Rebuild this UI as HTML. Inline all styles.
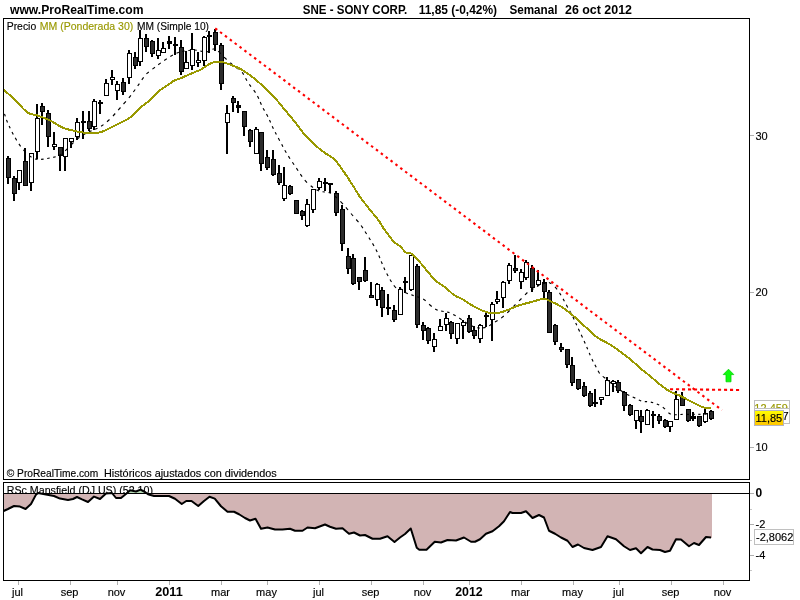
<!DOCTYPE html>
<html><head><meta charset="utf-8"><title>SNE - SONY CORP.</title>
<style>
html,body{margin:0;padding:0;background:#fff;}
body{width:800px;height:600px;overflow:hidden;}
svg{display:block;font-family:"Liberation Sans",Arial,sans-serif;will-change:transform;}
.t11{font-size:11px;stroke-width:0.15px;stroke:#000;}
.b12{font-size:12px;font-weight:bold;}
.b13{font-size:13px;font-weight:bold;}
</style></head><body>
<svg width="800" height="600" viewBox="0 0 800 600">
<rect x="0" y="0" width="800" height="600" fill="#fff"/>

<text x="10" y="14" class="b13" textLength="133.5" lengthAdjust="spacingAndGlyphs">www.ProRealTime.com</text>
<text x="302.8" y="13.5" class="b12" textLength="104.5" lengthAdjust="spacingAndGlyphs">SNE - SONY CORP.</text>
<text x="418.7" y="13.5" class="b12" textLength="78.4" lengthAdjust="spacingAndGlyphs">11,85 (-0,42%)</text>
<text x="509.4" y="13.5" class="b12" textLength="48" lengthAdjust="spacingAndGlyphs">Semanal</text>
<text x="565" y="13.5" class="b12" textLength="67" lengthAdjust="spacingAndGlyphs">26 oct 2012</text>
<text x="6.7" y="30" class="t11" textLength="29.5" lengthAdjust="spacingAndGlyphs">Precio</text>
<text x="39.75" y="30" class="t11" textLength="93.5" lengthAdjust="spacingAndGlyphs" fill="#999900" style="stroke:#999900">MM (Ponderada 30)</text>
<text x="137" y="30" class="t11" textLength="72" lengthAdjust="spacingAndGlyphs">MM (Simple 10)</text>
<text x="6.75" y="494.2" class="t11" textLength="146.25" lengthAdjust="spacingAndGlyphs">RSc Mansfield (DJ US) (52 10)</text>
<defs><clipPath id="below"><rect x="4" y="493.5" width="745" height="87"/></clipPath><clipPath id="above"><rect x="4" y="483" width="745" height="10.5"/></clipPath></defs>
<polygon points="3.60,493.50 3.60,511.00 8.00,509.00 14.00,506.00 20.00,506.60 25.60,509.00 31.00,504.00 36.00,494.60 38.00,493.00 46.00,494.60 54.00,496.00 60.00,498.60 68.00,500.00 73.00,499.00 77.00,497.00 82.00,499.40 88.00,502.00 94.00,496.60 100.00,499.00 106.00,493.40 112.00,493.00 116.00,498.00 121.00,498.00 126.25,493.80 130.00,490.30 136.00,491.50 140.50,489.60 145.00,492.00 148.00,494.25 154.00,496.00 169.00,496.00 175.00,498.75 181.75,504.00 186.25,501.00 191.50,501.00 198.25,506.00 204.00,501.00 209.50,496.80 214.75,498.60 221.00,506.25 227.50,511.75 234.00,511.75 239.00,514.25 245.00,518.00 250.00,520.50 255.50,518.75 261.00,528.75 267.50,527.50 275.00,529.50 282.50,529.50 290.00,528.75 295.00,530.75 302.50,530.75 307.50,527.50 315.00,528.25 325.00,524.50 330.00,526.75 336.00,528.75 342.50,528.25 349.00,533.75 354.00,532.50 360.00,535.50 365.00,535.00 372.50,538.75 380.00,538.75 387.50,536.25 394.50,542.00 400.00,537.50 405.00,534.00 410.75,528.50 416.75,547.70 419.30,549.70 426.50,549.70 434.75,541.70 441.00,542.50 447.50,540.00 456.00,540.50 464.00,537.50 471.00,541.75 475.00,541.75 480.00,539.25 486.00,533.75 492.50,531.25 499.00,526.25 504.00,521.25 510.00,512.00 512.50,513.00 521.00,513.00 526.00,511.25 532.50,518.00 539.00,515.00 544.00,517.50 549.00,530.75 555.00,533.75 561.00,537.50 567.50,540.75 572.50,547.00 578.00,544.50 584.00,548.00 592.50,550.00 601.00,547.00 607.50,536.25 616.00,539.25 624.00,546.25 630.00,550.00 636.00,548.25 641.00,553.25 647.50,547.00 652.50,549.50 660.00,550.00 665.00,552.00 670.00,550.75 676.00,539.25 681.00,539.50 689.00,546.25 694.00,543.00 699.00,545.00 706.00,537.00 711.00,537.50 711.80,537.50 711.80,493.50" fill="#d2b4b4" clip-path="url(#below)" shape-rendering="crispEdges"/>
<polygon points="3.60,493.50 3.60,511.00 8.00,509.00 14.00,506.00 20.00,506.60 25.60,509.00 31.00,504.00 36.00,494.60 38.00,493.00 46.00,494.60 54.00,496.00 60.00,498.60 68.00,500.00 73.00,499.00 77.00,497.00 82.00,499.40 88.00,502.00 94.00,496.60 100.00,499.00 106.00,493.40 112.00,493.00 116.00,498.00 121.00,498.00 126.25,493.80 130.00,490.30 136.00,491.50 140.50,489.60 145.00,492.00 148.00,494.25 154.00,496.00 169.00,496.00 175.00,498.75 181.75,504.00 186.25,501.00 191.50,501.00 198.25,506.00 204.00,501.00 209.50,496.80 214.75,498.60 221.00,506.25 227.50,511.75 234.00,511.75 239.00,514.25 245.00,518.00 250.00,520.50 255.50,518.75 261.00,528.75 267.50,527.50 275.00,529.50 282.50,529.50 290.00,528.75 295.00,530.75 302.50,530.75 307.50,527.50 315.00,528.25 325.00,524.50 330.00,526.75 336.00,528.75 342.50,528.25 349.00,533.75 354.00,532.50 360.00,535.50 365.00,535.00 372.50,538.75 380.00,538.75 387.50,536.25 394.50,542.00 400.00,537.50 405.00,534.00 410.75,528.50 416.75,547.70 419.30,549.70 426.50,549.70 434.75,541.70 441.00,542.50 447.50,540.00 456.00,540.50 464.00,537.50 471.00,541.75 475.00,541.75 480.00,539.25 486.00,533.75 492.50,531.25 499.00,526.25 504.00,521.25 510.00,512.00 512.50,513.00 521.00,513.00 526.00,511.25 532.50,518.00 539.00,515.00 544.00,517.50 549.00,530.75 555.00,533.75 561.00,537.50 567.50,540.75 572.50,547.00 578.00,544.50 584.00,548.00 592.50,550.00 601.00,547.00 607.50,536.25 616.00,539.25 624.00,546.25 630.00,550.00 636.00,548.25 641.00,553.25 647.50,547.00 652.50,549.50 660.00,550.00 665.00,552.00 670.00,550.75 676.00,539.25 681.00,539.50 689.00,546.25 694.00,543.00 699.00,545.00 706.00,537.00 711.00,537.50 711.80,537.50 711.80,493.50" fill="#b4d8b4" clip-path="url(#above)" shape-rendering="crispEdges"/>
<polyline points="3.60,511.00 8.00,509.00 14.00,506.00 20.00,506.60 25.60,509.00 31.00,504.00 36.00,494.60 38.00,493.00 46.00,494.60 54.00,496.00 60.00,498.60 68.00,500.00 73.00,499.00 77.00,497.00 82.00,499.40 88.00,502.00 94.00,496.60 100.00,499.00 106.00,493.40 112.00,493.00 116.00,498.00 121.00,498.00 126.25,493.80 130.00,490.30 136.00,491.50 140.50,489.60 145.00,492.00 148.00,494.25 154.00,496.00 169.00,496.00 175.00,498.75 181.75,504.00 186.25,501.00 191.50,501.00 198.25,506.00 204.00,501.00 209.50,496.80 214.75,498.60 221.00,506.25 227.50,511.75 234.00,511.75 239.00,514.25 245.00,518.00 250.00,520.50 255.50,518.75 261.00,528.75 267.50,527.50 275.00,529.50 282.50,529.50 290.00,528.75 295.00,530.75 302.50,530.75 307.50,527.50 315.00,528.25 325.00,524.50 330.00,526.75 336.00,528.75 342.50,528.25 349.00,533.75 354.00,532.50 360.00,535.50 365.00,535.00 372.50,538.75 380.00,538.75 387.50,536.25 394.50,542.00 400.00,537.50 405.00,534.00 410.75,528.50 416.75,547.70 419.30,549.70 426.50,549.70 434.75,541.70 441.00,542.50 447.50,540.00 456.00,540.50 464.00,537.50 471.00,541.75 475.00,541.75 480.00,539.25 486.00,533.75 492.50,531.25 499.00,526.25 504.00,521.25 510.00,512.00 512.50,513.00 521.00,513.00 526.00,511.25 532.50,518.00 539.00,515.00 544.00,517.50 549.00,530.75 555.00,533.75 561.00,537.50 567.50,540.75 572.50,547.00 578.00,544.50 584.00,548.00 592.50,550.00 601.00,547.00 607.50,536.25 616.00,539.25 624.00,546.25 630.00,550.00 636.00,548.25 641.00,553.25 647.50,547.00 652.50,549.50 660.00,550.00 665.00,552.00 670.00,550.75 676.00,539.25 681.00,539.50 689.00,546.25 694.00,543.00 699.00,545.00 706.00,537.00 711.00,537.50" fill="none" stroke="#000" stroke-width="2" stroke-linejoin="round"/>
<g shape-rendering="crispEdges" fill="none" stroke="#000" stroke-width="1">
<rect x="3.5" y="18.5" width="746" height="461"/>
<rect x="3.5" y="482.5" width="746" height="98"/>
<line x1="3" y1="493.5" x2="750" y2="493.5"/>
</g>
<text x="6.75" y="476.5" class="t11" textLength="91.5" lengthAdjust="spacingAndGlyphs">© ProRealTime.com</text>
<text x="103.9" y="476.5" class="t11" textLength="172.85" lengthAdjust="spacingAndGlyphs">Históricos ajustados con dividendos</text>
<g shape-rendering="crispEdges" stroke="#b0b0b0" stroke-width="1">
<line x1="750" y1="135.5" x2="754" y2="135.5"/>
<line x1="750" y1="292.5" x2="754" y2="292.5"/>
<line x1="750" y1="447.5" x2="754" y2="447.5"/>
<line x1="750" y1="493.5" x2="754" y2="493.5"/>
<line x1="750" y1="524.5" x2="754" y2="524.5"/>
<line x1="750" y1="555.5" x2="754" y2="555.5"/>
<line x1="750" y1="509.5" x2="752" y2="509.5" stroke="#c8c8c8"/>
<line x1="750" y1="540.5" x2="752" y2="540.5" stroke="#c8c8c8"/>
<line x1="750" y1="570.5" x2="752" y2="570.5" stroke="#c8c8c8"/>
<line x1="18.5" y1="581" x2="18.5" y2="585" stroke="#b0b0b0"/>
<line x1="70.5" y1="581" x2="70.5" y2="585" stroke="#b0b0b0"/>
<line x1="117.5" y1="581" x2="117.5" y2="585" stroke="#b0b0b0"/>
<line x1="169.5" y1="581" x2="169.5" y2="585" stroke="#b0b0b0"/>
<line x1="221.5" y1="581" x2="221.5" y2="585" stroke="#b0b0b0"/>
<line x1="267.5" y1="581" x2="267.5" y2="585" stroke="#b0b0b0"/>
<line x1="319.5" y1="581" x2="319.5" y2="585" stroke="#b0b0b0"/>
<line x1="371.5" y1="581" x2="371.5" y2="585" stroke="#b0b0b0"/>
<line x1="423.5" y1="581" x2="423.5" y2="585" stroke="#b0b0b0"/>
<line x1="469.5" y1="581" x2="469.5" y2="585" stroke="#b0b0b0"/>
<line x1="521.5" y1="581" x2="521.5" y2="585" stroke="#b0b0b0"/>
<line x1="573.5" y1="581" x2="573.5" y2="585" stroke="#b0b0b0"/>
<line x1="619.5" y1="581" x2="619.5" y2="585" stroke="#b0b0b0"/>
<line x1="671.5" y1="581" x2="671.5" y2="585" stroke="#b0b0b0"/>
<line x1="723.5" y1="581" x2="723.5" y2="585" stroke="#b0b0b0"/>
</g>
<text x="17.5" y="596" class="t11" text-anchor="middle">jul</text>
<text x="69.5" y="596" class="t11" text-anchor="middle">sep</text>
<text x="116.5" y="596" class="t11" text-anchor="middle">nov</text>
<text x="169" y="596" class="b13" text-anchor="middle" textLength="27.5" lengthAdjust="spacingAndGlyphs">2011</text>
<text x="220.5" y="596" class="t11" text-anchor="middle">mar</text>
<text x="266.5" y="596" class="t11" text-anchor="middle">may</text>
<text x="318.5" y="596" class="t11" text-anchor="middle">jul</text>
<text x="370.5" y="596" class="t11" text-anchor="middle">sep</text>
<text x="422.5" y="596" class="t11" text-anchor="middle">nov</text>
<text x="469" y="596" class="b13" text-anchor="middle" textLength="27.5" lengthAdjust="spacingAndGlyphs">2012</text>
<text x="520.5" y="596" class="t11" text-anchor="middle">mar</text>
<text x="572.5" y="596" class="t11" text-anchor="middle">may</text>
<text x="618.5" y="596" class="t11" text-anchor="middle">jul</text>
<text x="670.5" y="596" class="t11" text-anchor="middle">sep</text>
<text x="722.5" y="596" class="t11" text-anchor="middle">nov</text>
<text x="755.5" y="140" class="t11">30</text>
<text x="755.5" y="296" class="t11">20</text>
<text x="755.5" y="450.7" class="t11">10</text>
<text x="755.5" y="497" class="b12">0</text>
<text x="755.5" y="528" class="t11">-2</text>
<text x="755.5" y="559" class="t11">-4</text>
<g shape-rendering="crispEdges">
<rect x="7" y="156" width="2" height="28" fill="#000"/>
<rect x="6" y="158" width="5" height="20" fill="#000"/>
<rect x="7" y="159" width="3" height="18" fill="#2c2c2c"/>
<rect x="13" y="176" width="2" height="25" fill="#000"/>
<rect x="12" y="178" width="5" height="16" fill="#000"/>
<rect x="13" y="179" width="3" height="14" fill="#2c2c2c"/>
<rect x="18" y="170" width="2" height="20" fill="#000"/>
<rect x="17" y="170" width="5" height="13" fill="#000"/>
<rect x="18" y="171" width="3" height="11" fill="#fff"/>
<rect x="24" y="148" width="2" height="38" fill="#000"/>
<rect x="23" y="161" width="5" height="25" fill="#000"/>
<rect x="24" y="162" width="3" height="23" fill="#2c2c2c"/>
<rect x="30" y="153" width="2" height="38" fill="#000"/>
<rect x="29" y="153" width="5" height="30" fill="#000"/>
<rect x="30" y="154" width="3" height="28" fill="#fff"/>
<rect x="36" y="104" width="2" height="55" fill="#000"/>
<rect x="35" y="118" width="5" height="34" fill="#000"/>
<rect x="36" y="119" width="3" height="32" fill="#fff"/>
<rect x="41" y="103" width="2" height="22" fill="#000"/>
<rect x="40" y="106" width="5" height="6" fill="#000"/>
<rect x="41" y="107" width="3" height="4" fill="#2c2c2c"/>
<rect x="47" y="110" width="2" height="37" fill="#000"/>
<rect x="46" y="113" width="5" height="24" fill="#000"/>
<rect x="47" y="114" width="3" height="22" fill="#2c2c2c"/>
<rect x="53" y="132" width="2" height="18" fill="#000"/>
<rect x="52" y="144" width="5" height="3" fill="#000"/>
<rect x="53" y="145" width="3" height="1" fill="#fff"/>
<rect x="59" y="147" width="2" height="24" fill="#000"/>
<rect x="58" y="147" width="5" height="9" fill="#000"/>
<rect x="59" y="148" width="3" height="7" fill="#2c2c2c"/>
<rect x="64" y="138" width="2" height="33" fill="#000"/>
<rect x="63" y="138" width="5" height="19" fill="#000"/>
<rect x="64" y="139" width="3" height="17" fill="#fff"/>
<rect x="70" y="138" width="2" height="10" fill="#000"/>
<rect x="69" y="138" width="5" height="4" fill="#000"/>
<rect x="70" y="139" width="3" height="2" fill="#fff"/>
<rect x="76" y="118" width="2" height="22" fill="#000"/>
<rect x="75" y="122" width="5" height="15" fill="#000"/>
<rect x="76" y="123" width="3" height="13" fill="#fff"/>
<rect x="82" y="111" width="2" height="28" fill="#000"/>
<rect x="81" y="121" width="5" height="2" fill="#000"/>
<rect x="88" y="111" width="2" height="20" fill="#000"/>
<rect x="87" y="121" width="5" height="8" fill="#000"/>
<rect x="88" y="122" width="3" height="6" fill="#2c2c2c"/>
<rect x="93" y="99" width="2" height="31" fill="#000"/>
<rect x="92" y="101" width="5" height="26" fill="#000"/>
<rect x="93" y="102" width="3" height="24" fill="#fff"/>
<rect x="99" y="100" width="2" height="14" fill="#000"/>
<rect x="98" y="102" width="5" height="2" fill="#000"/>
<rect x="105" y="79" width="2" height="17" fill="#000"/>
<rect x="104" y="83" width="5" height="13" fill="#000"/>
<rect x="105" y="84" width="3" height="11" fill="#fff"/>
<rect x="111" y="70" width="2" height="15" fill="#000"/>
<rect x="110" y="77" width="5" height="3" fill="#000"/>
<rect x="111" y="78" width="3" height="1" fill="#fff"/>
<rect x="116" y="81" width="2" height="19" fill="#000"/>
<rect x="115" y="84" width="5" height="7" fill="#000"/>
<rect x="116" y="85" width="3" height="5" fill="#fff"/>
<rect x="122" y="78" width="2" height="17" fill="#000"/>
<rect x="121" y="82" width="5" height="10" fill="#000"/>
<rect x="122" y="83" width="3" height="8" fill="#2c2c2c"/>
<rect x="128" y="50" width="2" height="34" fill="#000"/>
<rect x="127" y="53" width="5" height="25" fill="#000"/>
<rect x="128" y="54" width="3" height="23" fill="#fff"/>
<rect x="134" y="52" width="2" height="17" fill="#000"/>
<rect x="133" y="57" width="5" height="9" fill="#000"/>
<rect x="134" y="58" width="3" height="7" fill="#2c2c2c"/>
<rect x="139" y="30" width="2" height="36" fill="#000"/>
<rect x="138" y="38" width="5" height="24" fill="#000"/>
<rect x="139" y="39" width="3" height="22" fill="#fff"/>
<rect x="145" y="34" width="2" height="18" fill="#000"/>
<rect x="144" y="38" width="5" height="9" fill="#000"/>
<rect x="145" y="39" width="3" height="7" fill="#2c2c2c"/>
<rect x="151" y="40" width="2" height="17" fill="#000"/>
<rect x="150" y="41" width="5" height="13" fill="#000"/>
<rect x="151" y="42" width="3" height="11" fill="#2c2c2c"/>
<rect x="157" y="38" width="2" height="21" fill="#000"/>
<rect x="156" y="50" width="5" height="6" fill="#000"/>
<rect x="157" y="51" width="3" height="4" fill="#fff"/>
<rect x="162" y="42" width="2" height="11" fill="#000"/>
<rect x="161" y="48" width="5" height="5" fill="#000"/>
<rect x="162" y="49" width="3" height="3" fill="#fff"/>
<rect x="168" y="36" width="2" height="13" fill="#000"/>
<rect x="167" y="41" width="5" height="3" fill="#000"/>
<rect x="174" y="37" width="2" height="18" fill="#000"/>
<rect x="173" y="44" width="5" height="2" fill="#000"/>
<rect x="180" y="40" width="2" height="35" fill="#000"/>
<rect x="179" y="47" width="5" height="25" fill="#000"/>
<rect x="180" y="48" width="3" height="23" fill="#2c2c2c"/>
<rect x="185" y="51" width="2" height="18" fill="#000"/>
<rect x="184" y="62" width="5" height="7" fill="#000"/>
<rect x="185" y="63" width="3" height="5" fill="#fff"/>
<rect x="191" y="33" width="2" height="37" fill="#000"/>
<rect x="190" y="49" width="5" height="17" fill="#000"/>
<rect x="191" y="50" width="3" height="15" fill="#fff"/>
<rect x="197" y="52" width="2" height="15" fill="#000"/>
<rect x="196" y="60" width="5" height="3" fill="#000"/>
<rect x="197" y="61" width="3" height="1" fill="#fff"/>
<rect x="203" y="36" width="2" height="30" fill="#000"/>
<rect x="202" y="37" width="5" height="24" fill="#000"/>
<rect x="203" y="38" width="3" height="22" fill="#fff"/>
<rect x="208" y="31" width="2" height="22" fill="#000"/>
<rect x="207" y="35" width="5" height="2" fill="#000"/>
<rect x="214" y="29" width="2" height="22" fill="#000"/>
<rect x="213" y="32" width="5" height="13" fill="#000"/>
<rect x="214" y="33" width="3" height="11" fill="#2c2c2c"/>
<rect x="220" y="43" width="2" height="47" fill="#000"/>
<rect x="219" y="45" width="5" height="39" fill="#000"/>
<rect x="220" y="46" width="3" height="37" fill="#2c2c2c"/>
<rect x="226" y="105" width="2" height="49" fill="#000"/>
<rect x="225" y="113" width="5" height="10" fill="#000"/>
<rect x="226" y="114" width="3" height="8" fill="#fff"/>
<rect x="232" y="96" width="2" height="16" fill="#000"/>
<rect x="231" y="98" width="5" height="5" fill="#000"/>
<rect x="232" y="99" width="3" height="3" fill="#2c2c2c"/>
<rect x="237" y="101" width="2" height="12" fill="#000"/>
<rect x="236" y="105" width="5" height="3" fill="#000"/>
<rect x="243" y="111" width="2" height="25" fill="#000"/>
<rect x="242" y="111" width="5" height="16" fill="#000"/>
<rect x="243" y="112" width="3" height="14" fill="#2c2c2c"/>
<rect x="249" y="129" width="2" height="18" fill="#000"/>
<rect x="248" y="130" width="5" height="12" fill="#000"/>
<rect x="249" y="131" width="3" height="10" fill="#2c2c2c"/>
<rect x="255" y="127" width="2" height="27" fill="#000"/>
<rect x="254" y="129" width="5" height="25" fill="#000"/>
<rect x="255" y="130" width="3" height="23" fill="#fff"/>
<rect x="260" y="132" width="2" height="39" fill="#000"/>
<rect x="259" y="132" width="5" height="32" fill="#000"/>
<rect x="260" y="133" width="3" height="30" fill="#2c2c2c"/>
<rect x="266" y="150" width="2" height="20" fill="#000"/>
<rect x="265" y="157" width="5" height="11" fill="#000"/>
<rect x="266" y="158" width="3" height="9" fill="#2c2c2c"/>
<rect x="272" y="150" width="2" height="26" fill="#000"/>
<rect x="271" y="159" width="5" height="16" fill="#000"/>
<rect x="272" y="160" width="3" height="14" fill="#2c2c2c"/>
<rect x="278" y="165" width="2" height="20" fill="#000"/>
<rect x="277" y="173" width="5" height="10" fill="#000"/>
<rect x="278" y="174" width="3" height="8" fill="#2c2c2c"/>
<rect x="283" y="167" width="2" height="34" fill="#000"/>
<rect x="282" y="185" width="5" height="14" fill="#000"/>
<rect x="283" y="186" width="3" height="12" fill="#fff"/>
<rect x="289" y="185" width="2" height="10" fill="#000"/>
<rect x="288" y="186" width="5" height="8" fill="#000"/>
<rect x="289" y="187" width="3" height="6" fill="#2c2c2c"/>
<rect x="295" y="200" width="2" height="14" fill="#000"/>
<rect x="294" y="200" width="5" height="14" fill="#000"/>
<rect x="295" y="201" width="3" height="12" fill="#2c2c2c"/>
<rect x="301" y="210" width="2" height="10" fill="#000"/>
<rect x="300" y="211" width="5" height="5" fill="#000"/>
<rect x="301" y="212" width="3" height="3" fill="#2c2c2c"/>
<rect x="306" y="199" width="2" height="28" fill="#000"/>
<rect x="305" y="204" width="5" height="22" fill="#000"/>
<rect x="306" y="205" width="3" height="20" fill="#fff"/>
<rect x="312" y="189" width="2" height="24" fill="#000"/>
<rect x="311" y="189" width="5" height="21" fill="#000"/>
<rect x="312" y="190" width="3" height="19" fill="#fff"/>
<rect x="318" y="178" width="2" height="12" fill="#000"/>
<rect x="317" y="181" width="5" height="7" fill="#000"/>
<rect x="318" y="182" width="3" height="5" fill="#fff"/>
<rect x="324" y="178" width="2" height="13" fill="#000"/>
<rect x="323" y="182" width="5" height="2" fill="#000"/>
<rect x="329" y="183" width="2" height="10" fill="#000"/>
<rect x="328" y="183" width="5" height="2" fill="#000"/>
<rect x="335" y="191" width="2" height="25" fill="#000"/>
<rect x="334" y="193" width="5" height="20" fill="#000"/>
<rect x="335" y="194" width="3" height="18" fill="#2c2c2c"/>
<rect x="341" y="205" width="2" height="46" fill="#000"/>
<rect x="340" y="209" width="5" height="35" fill="#000"/>
<rect x="341" y="210" width="3" height="33" fill="#2c2c2c"/>
<rect x="347" y="248" width="2" height="26" fill="#000"/>
<rect x="346" y="256" width="5" height="13" fill="#000"/>
<rect x="347" y="257" width="3" height="11" fill="#2c2c2c"/>
<rect x="352" y="254" width="2" height="31" fill="#000"/>
<rect x="351" y="258" width="5" height="26" fill="#000"/>
<rect x="352" y="259" width="3" height="24" fill="#2c2c2c"/>
<rect x="358" y="277" width="2" height="13" fill="#000"/>
<rect x="357" y="277" width="5" height="5" fill="#000"/>
<rect x="358" y="278" width="3" height="3" fill="#2c2c2c"/>
<rect x="364" y="257" width="2" height="25" fill="#000"/>
<rect x="363" y="270" width="5" height="11" fill="#000"/>
<rect x="364" y="271" width="3" height="9" fill="#2c2c2c"/>
<rect x="370" y="282" width="2" height="16" fill="#000"/>
<rect x="369" y="295" width="5" height="3" fill="#000"/>
<rect x="370" y="296" width="3" height="1" fill="#2c2c2c"/>
<rect x="376" y="283" width="2" height="23" fill="#000"/>
<rect x="375" y="284" width="5" height="16" fill="#000"/>
<rect x="376" y="285" width="3" height="14" fill="#fff"/>
<rect x="381" y="287" width="2" height="30" fill="#000"/>
<rect x="380" y="290" width="5" height="18" fill="#000"/>
<rect x="381" y="291" width="3" height="16" fill="#2c2c2c"/>
<rect x="387" y="294" width="2" height="21" fill="#000"/>
<rect x="386" y="307" width="5" height="2" fill="#000"/>
<rect x="393" y="305" width="2" height="17" fill="#000"/>
<rect x="392" y="310" width="5" height="10" fill="#000"/>
<rect x="393" y="311" width="3" height="8" fill="#2c2c2c"/>
<rect x="399" y="287" width="2" height="28" fill="#000"/>
<rect x="398" y="289" width="5" height="26" fill="#000"/>
<rect x="399" y="290" width="3" height="24" fill="#fff"/>
<rect x="404" y="277" width="2" height="16" fill="#000"/>
<rect x="403" y="281" width="5" height="2" fill="#000"/>
<rect x="410" y="255" width="2" height="36" fill="#000"/>
<rect x="409" y="255" width="5" height="35" fill="#000"/>
<rect x="410" y="256" width="3" height="33" fill="#fff"/>
<rect x="416" y="264" width="2" height="64" fill="#000"/>
<rect x="415" y="266" width="5" height="59" fill="#000"/>
<rect x="416" y="267" width="3" height="57" fill="#2c2c2c"/>
<rect x="422" y="322" width="2" height="18" fill="#000"/>
<rect x="421" y="325" width="5" height="6" fill="#000"/>
<rect x="422" y="326" width="3" height="4" fill="#2c2c2c"/>
<rect x="427" y="327" width="2" height="17" fill="#000"/>
<rect x="426" y="328" width="5" height="13" fill="#000"/>
<rect x="427" y="329" width="3" height="11" fill="#2c2c2c"/>
<rect x="433" y="333" width="2" height="19" fill="#000"/>
<rect x="432" y="339" width="5" height="8" fill="#000"/>
<rect x="433" y="340" width="3" height="6" fill="#fff"/>
<rect x="439" y="319" width="2" height="12" fill="#000"/>
<rect x="438" y="326" width="5" height="5" fill="#000"/>
<rect x="439" y="327" width="3" height="3" fill="#fff"/>
<rect x="445" y="313" width="2" height="18" fill="#000"/>
<rect x="444" y="318" width="5" height="7" fill="#000"/>
<rect x="445" y="319" width="3" height="5" fill="#fff"/>
<rect x="450" y="321" width="2" height="18" fill="#000"/>
<rect x="449" y="322" width="5" height="12" fill="#000"/>
<rect x="450" y="323" width="3" height="10" fill="#2c2c2c"/>
<rect x="456" y="323" width="2" height="21" fill="#000"/>
<rect x="455" y="323" width="5" height="16" fill="#000"/>
<rect x="456" y="324" width="3" height="14" fill="#fff"/>
<rect x="462" y="320" width="2" height="19" fill="#000"/>
<rect x="461" y="322" width="5" height="4" fill="#000"/>
<rect x="462" y="323" width="3" height="2" fill="#fff"/>
<rect x="468" y="315" width="2" height="18" fill="#000"/>
<rect x="467" y="318" width="5" height="14" fill="#000"/>
<rect x="468" y="319" width="3" height="12" fill="#2c2c2c"/>
<rect x="473" y="326" width="2" height="13" fill="#000"/>
<rect x="472" y="330" width="5" height="6" fill="#000"/>
<rect x="473" y="331" width="3" height="4" fill="#2c2c2c"/>
<rect x="479" y="324" width="2" height="19" fill="#000"/>
<rect x="478" y="325" width="5" height="14" fill="#000"/>
<rect x="479" y="326" width="3" height="12" fill="#fff"/>
<rect x="485" y="313" width="2" height="14" fill="#000"/>
<rect x="484" y="315" width="5" height="2" fill="#000"/>
<rect x="491" y="302" width="2" height="39" fill="#000"/>
<rect x="490" y="304" width="5" height="16" fill="#000"/>
<rect x="491" y="305" width="3" height="14" fill="#fff"/>
<rect x="496" y="291" width="2" height="13" fill="#000"/>
<rect x="495" y="299" width="5" height="3" fill="#000"/>
<rect x="496" y="300" width="3" height="1" fill="#fff"/>
<rect x="502" y="281" width="2" height="27" fill="#000"/>
<rect x="501" y="282" width="5" height="16" fill="#000"/>
<rect x="502" y="283" width="3" height="14" fill="#fff"/>
<rect x="508" y="263" width="2" height="21" fill="#000"/>
<rect x="507" y="265" width="5" height="16" fill="#000"/>
<rect x="508" y="266" width="3" height="14" fill="#fff"/>
<rect x="514" y="255" width="2" height="18" fill="#000"/>
<rect x="513" y="268" width="5" height="3" fill="#000"/>
<rect x="514" y="269" width="3" height="1" fill="#2c2c2c"/>
<rect x="520" y="269" width="2" height="20" fill="#000"/>
<rect x="519" y="272" width="5" height="10" fill="#000"/>
<rect x="520" y="273" width="3" height="8" fill="#fff"/>
<rect x="525" y="260" width="2" height="20" fill="#000"/>
<rect x="524" y="262" width="5" height="16" fill="#000"/>
<rect x="525" y="263" width="3" height="14" fill="#fff"/>
<rect x="531" y="265" width="2" height="27" fill="#000"/>
<rect x="530" y="268" width="5" height="20" fill="#000"/>
<rect x="531" y="269" width="3" height="18" fill="#2c2c2c"/>
<rect x="537" y="270" width="2" height="16" fill="#000"/>
<rect x="536" y="280" width="5" height="5" fill="#000"/>
<rect x="537" y="281" width="3" height="3" fill="#fff"/>
<rect x="543" y="279" width="2" height="19" fill="#000"/>
<rect x="542" y="282" width="5" height="10" fill="#000"/>
<rect x="543" y="283" width="3" height="8" fill="#2c2c2c"/>
<rect x="548" y="290" width="2" height="43" fill="#000"/>
<rect x="547" y="292" width="5" height="41" fill="#000"/>
<rect x="548" y="293" width="3" height="39" fill="#2c2c2c"/>
<rect x="554" y="324" width="2" height="21" fill="#000"/>
<rect x="553" y="325" width="5" height="17" fill="#000"/>
<rect x="554" y="326" width="3" height="15" fill="#2c2c2c"/>
<rect x="560" y="343" width="2" height="9" fill="#000"/>
<rect x="559" y="347" width="5" height="3" fill="#000"/>
<rect x="560" y="348" width="3" height="1" fill="#2c2c2c"/>
<rect x="566" y="349" width="2" height="19" fill="#000"/>
<rect x="565" y="349" width="5" height="16" fill="#000"/>
<rect x="566" y="350" width="3" height="14" fill="#2c2c2c"/>
<rect x="571" y="357" width="2" height="29" fill="#000"/>
<rect x="570" y="365" width="5" height="18" fill="#000"/>
<rect x="571" y="366" width="3" height="16" fill="#2c2c2c"/>
<rect x="577" y="379" width="2" height="11" fill="#000"/>
<rect x="576" y="379" width="5" height="10" fill="#000"/>
<rect x="577" y="380" width="3" height="8" fill="#2c2c2c"/>
<rect x="583" y="382" width="2" height="15" fill="#000"/>
<rect x="582" y="386" width="5" height="10" fill="#000"/>
<rect x="583" y="387" width="3" height="8" fill="#2c2c2c"/>
<rect x="589" y="391" width="2" height="16" fill="#000"/>
<rect x="588" y="393" width="5" height="13" fill="#000"/>
<rect x="589" y="394" width="3" height="11" fill="#2c2c2c"/>
<rect x="594" y="389" width="2" height="18" fill="#000"/>
<rect x="593" y="402" width="5" height="2" fill="#000"/>
<rect x="600" y="397" width="2" height="8" fill="#000"/>
<rect x="599" y="397" width="5" height="3" fill="#000"/>
<rect x="600" y="398" width="3" height="1" fill="#fff"/>
<rect x="606" y="377" width="2" height="19" fill="#000"/>
<rect x="605" y="380" width="5" height="16" fill="#000"/>
<rect x="606" y="381" width="3" height="14" fill="#fff"/>
<rect x="612" y="380" width="2" height="12" fill="#000"/>
<rect x="611" y="381" width="5" height="3" fill="#000"/>
<rect x="612" y="382" width="3" height="1" fill="#fff"/>
<rect x="617" y="380" width="2" height="13" fill="#000"/>
<rect x="616" y="382" width="5" height="9" fill="#000"/>
<rect x="617" y="383" width="3" height="7" fill="#2c2c2c"/>
<rect x="623" y="391" width="2" height="20" fill="#000"/>
<rect x="622" y="392" width="5" height="14" fill="#000"/>
<rect x="623" y="393" width="3" height="12" fill="#2c2c2c"/>
<rect x="629" y="404" width="2" height="12" fill="#000"/>
<rect x="628" y="405" width="5" height="10" fill="#000"/>
<rect x="629" y="406" width="3" height="8" fill="#2c2c2c"/>
<rect x="635" y="410" width="2" height="19" fill="#000"/>
<rect x="634" y="410" width="5" height="11" fill="#000"/>
<rect x="635" y="411" width="3" height="9" fill="#fff"/>
<rect x="640" y="410" width="2" height="23" fill="#000"/>
<rect x="639" y="416" width="5" height="6" fill="#000"/>
<rect x="640" y="417" width="3" height="4" fill="#2c2c2c"/>
<rect x="646" y="409" width="2" height="16" fill="#000"/>
<rect x="645" y="410" width="5" height="15" fill="#000"/>
<rect x="646" y="411" width="3" height="13" fill="#fff"/>
<rect x="652" y="411" width="2" height="17" fill="#000"/>
<rect x="651" y="414" width="5" height="2" fill="#000"/>
<rect x="658" y="414" width="2" height="10" fill="#000"/>
<rect x="657" y="416" width="5" height="5" fill="#000"/>
<rect x="658" y="417" width="3" height="3" fill="#2c2c2c"/>
<rect x="664" y="419" width="2" height="9" fill="#000"/>
<rect x="663" y="420" width="5" height="7" fill="#000"/>
<rect x="664" y="421" width="3" height="5" fill="#2c2c2c"/>
<rect x="669" y="421" width="2" height="11" fill="#000"/>
<rect x="668" y="421" width="5" height="6" fill="#000"/>
<rect x="669" y="422" width="3" height="4" fill="#fff"/>
<rect x="675" y="391" width="2" height="29" fill="#000"/>
<rect x="674" y="399" width="5" height="21" fill="#000"/>
<rect x="675" y="400" width="3" height="19" fill="#fff"/>
<rect x="681" y="392" width="2" height="14" fill="#000"/>
<rect x="680" y="397" width="5" height="9" fill="#000"/>
<rect x="681" y="398" width="3" height="7" fill="#2c2c2c"/>
<rect x="687" y="409" width="2" height="13" fill="#000"/>
<rect x="686" y="409" width="5" height="12" fill="#000"/>
<rect x="687" y="410" width="3" height="10" fill="#2c2c2c"/>
<rect x="692" y="412" width="2" height="9" fill="#000"/>
<rect x="691" y="416" width="5" height="3" fill="#000"/>
<rect x="698" y="416" width="2" height="11" fill="#000"/>
<rect x="697" y="416" width="5" height="10" fill="#000"/>
<rect x="698" y="417" width="3" height="8" fill="#2c2c2c"/>
<rect x="704" y="409" width="2" height="14" fill="#000"/>
<rect x="703" y="413" width="5" height="9" fill="#000"/>
<rect x="704" y="414" width="3" height="7" fill="#fff"/>
<rect x="710" y="410" width="2" height="10" fill="#000"/>
<rect x="709" y="411" width="5" height="8" fill="#000"/>
<rect x="710" y="412" width="3" height="6" fill="#2c2c2c"/>
</g>
<path d="M4.5,113.8 L5.3,116.4 M6.5,119.9 L7.5,122.5 M9.1,125.9 L10.2,128.3 M12.0,131.9 L13.3,134.4 M15.2,137.8 L16.7,140.4 M18.9,143.9 L20.6,146.3 M23.4,149.9 L25.8,152.5 M29.2,155.6 L31.5,157.3 M35.0,159.0 L37.5,159.5 M41.1,159.4 L43.6,159.1 M47.2,158.5 L49.7,158.0 M53.2,157.4 L55.7,156.8 M59.2,155.4 L61.5,153.9 M65.2,150.8 L67.7,148.3 M71.1,144.9 L73.5,142.5 M76.9,139.2 L79.5,137.3 M83.0,135.1 L85.6,133.5 M89.0,131.8 L91.6,130.7 M95.1,129.3 L97.5,128.3 M101.1,126.3 L103.5,124.6 M107.0,121.7 L109.5,119.5 M113.0,116.0 L115.2,113.5 M118.2,110.1 L120.5,107.5 M123.5,104.0 L125.9,101.4 M128.9,97.9 L130.9,95.4 M133.4,92.0 L135.2,89.5 M137.7,85.9 L139.4,83.6 M141.8,79.9 L143.6,77.4 M146.4,73.9 L148.8,72.0 M152.4,69.1 L155.0,67.2 M158.2,64.8 L160.8,62.9 M164.2,60.4 L166.8,58.8 M170.3,56.6 L172.9,55.1 M176.5,53.2 L178.9,52.3 M182.4,51.5 L184.7,51.0 M188.3,50.5 L190.9,50.2 M194.5,50.0 L196.8,50.3 M200.3,51.0 L202.9,51.6 M206.4,52.0 L208.9,51.4 M212.4,49.3 L214.8,48.7 M218.2,51.2 L220.8,53.7 M224.1,57.1 L226.6,59.5 M230.3,62.8 L232.7,64.9 M236.1,67.5 L238.7,69.2 M242.2,72.3 L243.7,74.6 M245.6,78.3 L246.9,80.7 M249.3,84.3 L251.0,86.6 M253.7,90.2 L255.5,92.7 M257.5,96.1 L258.8,98.7 M260.2,102.1 L261.4,104.7 M263.1,108.2 L264.5,110.6 M266.5,114.1 L267.9,116.7 M269.5,120.1 L270.6,122.6 M272.2,126.2 L273.4,128.7 M275.2,132.3 L276.4,134.6 M278.3,138.1 L279.7,140.7 M281.7,144.3 L282.9,146.7 M284.8,150.2 L286.3,152.7 M288.4,156.1 L290.0,158.7 M292.4,162.2 L294.1,164.7 M296.4,168.1 L298.1,170.7 M300.3,174.1 L302.1,176.7 M304.8,180.2 L307.0,182.6 M310.7,185.7 L313.0,187.5 M316.5,189.7 L319.0,191.0 M322.5,191.8 L324.9,192.0 M328.6,192.5 L331.0,193.3 M334.5,195.9 L336.9,198.0 M340.4,201.4 L343.0,204.1 M345.9,207.4 L348.0,210.0 M351.0,213.5 L353.1,216.0 M356.2,219.5 L358.5,222.1 M361.1,225.5 L362.9,228.1 M365.0,231.5 L366.6,234.0 M368.9,237.6 L370.4,240.0 M372.5,243.4 L374.0,246.0 M375.9,249.5 L377.2,252.1 M378.8,255.5 L379.9,258.1 M381.2,261.4 L382.3,264.0 M383.8,267.5 L384.9,269.9 M386.7,273.4 L388.1,276.1 M390.0,279.5 L391.5,282.0 M393.8,285.4 L396.0,288.0 M399.6,289.0 L402.0,289.4 M405.2,292.5 L407.9,293.8 M411.3,294.8 L413.7,295.6 M417.3,296.8 L419.7,297.5 M423.2,299.0 L425.7,300.7 M429.1,304.2 L431.7,306.5 M435.2,309.1 L437.7,310.2 M441.1,311.0 L443.7,311.5 M447.1,312.0 L449.5,312.6 M453.2,314.4 L455.7,315.8 M459.2,318.1 L461.7,319.8 M465.1,322.1 L467.7,323.7 M471.1,325.6 L473.7,326.7 M477.2,327.8 L479.7,328.1 M483.1,327.9 L485.7,327.4 M489.2,325.9 L491.5,324.3 M495.0,321.9 L497.6,320.5 M501.2,318.1 L503.8,316.0 M507.3,312.8 L509.6,310.5 M513.1,306.9 L515.5,304.5 M519.1,300.9 L521.5,298.5 M525.0,294.9 L527.4,292.5 M531.0,290.1 L533.5,288.7 M537.0,286.6 L539.4,285.3 M542.9,283.8 L545.5,283.1 M548.9,282.6 L551.4,283.8 M555.0,286.9 L557.1,289.4 M559.5,292.9 L561.0,295.3 M563.1,298.9 L564.4,301.2 M566.3,304.8 L567.7,307.5 M569.6,310.9 L571.0,313.3 M572.9,316.7 L574.1,319.4 M575.7,322.9 L576.8,325.2 M578.4,328.8 L579.6,331.4 M581.2,334.8 L582.5,337.4 M584.1,340.9 L585.2,343.4 M586.7,346.9 L587.7,349.2 M589.2,352.9 L590.2,355.3 M591.9,358.9 L593.1,361.4 M594.9,364.7 L596.2,367.3 M598.0,370.8 L599.6,373.5 M602.7,376.4 L605.3,378.2 M608.8,381.3 L611.2,383.3 M614.7,386.1 L617.2,388.0 M620.8,390.5 L623.3,392.2 M626.6,394.2 L629.3,395.6 M632.7,397.0 L635.3,398.1 M638.8,400.0 L641.2,401.1 M644.8,401.6 L647.1,401.6 M650.8,402.1 L653.2,402.8 M656.8,404.0 L659.2,405.1 M662.8,407.3 L665.1,409.1 M668.4,412.7 L670.7,414.3 M674.3,414.7 L676.8,414.7 M680.4,414.5 L682.7,414.4 M686.3,414.4 L688.9,414.4 M692.1,414.4 L694.7,414.4 M698.3,414.4 L700.6,414.3 M704.2,414.2 L706.6,414.2 M710.3,414.0 L711.0,414.0" fill="none" stroke="#000" stroke-width="1.15"/>
<polyline points="4.00,90.00 5.94,91.74 8.72,94.22 11.89,97.09 15.00,100.00 18.08,103.17 21.31,106.69 24.52,109.98 27.50,112.50 30.12,113.87 32.50,114.47 34.88,114.83 37.50,115.50 40.45,116.56 43.59,117.75 46.82,119.06 50.00,120.50 53.12,122.19 56.25,124.09 59.38,125.95 62.50,127.50 65.62,128.66 68.75,129.56 71.88,130.31 75.00,131.00 78.12,131.67 81.25,132.26 84.38,132.72 87.50,133.00 90.68,133.10 93.91,133.04 97.05,132.79 100.00,132.30 102.68,131.49 105.16,130.42 107.56,129.21 110.00,128.00 112.50,126.81 115.00,125.58 117.50,124.30 120.00,123.00 122.50,121.75 125.00,120.53 127.50,119.17 130.00,117.50 132.50,115.37 135.00,112.91 137.50,110.36 140.00,108.00 142.50,105.93 145.00,104.01 147.50,102.08 150.00,100.00 152.62,97.54 155.31,94.86 157.85,92.31 160.00,90.30 161.55,89.06 162.69,88.36 163.73,87.79 165.00,87.00 166.70,85.79 168.62,84.41 170.48,83.06 172.00,82.00 172.98,81.32 173.62,80.89 174.20,80.57 175.00,80.20 176.05,79.81 177.22,79.44 178.53,79.04 180.00,78.50 181.70,77.79 183.59,76.94 185.57,76.06 187.50,75.20 189.43,74.36 191.41,73.52 193.30,72.71 195.00,72.00 196.40,71.46 197.59,71.04 198.74,70.60 200.00,70.00 201.48,69.15 203.06,68.13 204.62,67.10 206.00,66.20 207.09,65.47 208.00,64.84 208.91,64.26 210.00,63.70 211.35,63.11 212.84,62.53 214.42,62.03 216.00,61.70 217.54,61.55 219.09,61.54 220.72,61.68 222.50,62.00 224.47,62.54 226.59,63.28 228.79,64.13 231.00,65.00 233.19,65.82 235.41,66.65 237.67,67.60 240.00,68.75 242.52,70.23 245.19,71.97 247.76,73.73 250.00,75.30 251.71,76.53 253.06,77.56 254.38,78.64 256.00,80.00 258.02,81.72 260.25,83.67 262.61,85.78 265.00,88.00 267.43,90.31 269.94,92.75 272.48,95.31 275.00,98.00 277.50,100.86 280.00,103.88 282.50,106.95 285.00,110.00 287.50,112.98 290.00,115.94 292.50,118.93 295.00,122.00 297.50,125.25 300.00,128.62 302.50,131.94 305.00,135.00 307.50,137.76 310.00,140.31 312.50,142.71 315.00,145.00 317.50,147.16 320.00,149.19 322.50,151.12 325.00,153.00 327.50,154.67 330.00,156.16 332.50,157.82 335.00,160.00 337.62,163.06 340.31,166.72 342.85,170.39 345.00,173.50 346.60,175.79 347.81,177.59 348.87,179.23 350.00,181.00 351.25,182.96 352.50,184.97 353.75,186.99 355.00,189.00 356.25,191.04 357.50,193.09 358.75,195.11 360.00,197.00 361.25,198.73 362.50,200.34 363.75,201.91 365.00,203.50 366.18,205.05 367.31,206.56 368.54,208.16 370.00,210.00 371.84,212.16 373.94,214.56 376.07,217.05 378.00,219.50 379.64,221.91 381.12,224.34 382.55,226.73 384.00,229.00 385.55,231.18 387.12,233.28 388.64,235.25 390.00,237.00 391.09,238.48 392.00,239.73 392.91,240.87 394.00,242.00 395.36,243.08 396.88,244.07 398.45,245.11 400.00,246.30 401.52,247.84 403.06,249.61 404.57,251.27 406.00,252.50 407.27,252.99 408.44,252.98 409.63,252.99 411.00,253.50 412.54,254.61 414.19,256.06 415.99,257.86 418.00,260.00 420.34,262.68 422.94,265.84 425.57,269.08 428.00,272.00 430.09,274.51 432.00,276.81 433.91,278.96 436.00,281.00 438.41,282.89 441.00,284.62 443.59,286.30 446.00,288.00 448.14,289.82 450.12,291.69 452.05,293.46 454.00,295.00 456.00,296.18 458.00,297.11 460.00,297.99 462.00,299.00 463.95,300.21 465.88,301.52 467.86,302.86 470.00,304.20 472.36,305.56 474.88,306.96 477.45,308.30 480.00,309.50 482.50,310.59 485.00,311.61 487.50,312.44 490.00,313.00 492.50,313.25 495.00,313.24 497.50,313.02 500.00,312.60 502.50,311.93 505.00,311.03 507.50,310.00 510.00,309.00 512.50,308.00 515.00,306.94 517.50,305.91 520.00,305.00 522.50,304.26 525.00,303.62 527.50,303.03 530.00,302.40 532.62,301.66 535.31,300.87 537.85,300.15 540.00,299.60 541.60,299.23 542.81,299.00 543.87,298.92 545.00,299.00 546.13,299.25 547.19,299.65 548.40,300.23 550.00,301.00 552.15,301.99 554.69,303.19 557.38,304.54 560.00,306.00 562.50,307.56 565.00,309.25 567.50,311.06 570.00,313.00 572.50,315.11 575.00,317.38 577.50,319.70 580.00,322.00 582.55,324.30 585.12,326.62 587.64,328.89 590.00,331.00 592.05,332.90 593.88,334.66 595.77,336.33 598.00,338.00 600.77,339.65 603.88,341.25 607.05,342.85 610.00,344.50 612.64,346.20 615.12,347.94 617.55,349.70 620.00,351.50 622.50,353.30 625.00,355.12 627.50,357.01 630.00,359.00 632.50,361.17 635.00,363.47 637.50,365.79 640.00,368.00 642.50,370.06 645.00,372.03 647.50,373.99 650.00,376.00 652.50,378.12 655.00,380.31 657.50,382.47 660.00,384.50 662.50,386.42 665.00,388.26 667.50,389.97 670.00,391.50 672.50,392.74 675.00,393.76 677.50,394.73 680.00,395.80 682.50,397.04 685.00,398.36 687.50,399.69 690.00,401.00 692.59,402.33 695.25,403.70 697.78,404.97 700.00,406.00 701.80,406.75 703.29,407.29 704.64,407.68 706.00,408.00 707.52,408.22 709.08,408.32 710.44,408.37 711.40,408.40" fill="none" stroke="#999900" stroke-width="2" stroke-linejoin="round" shape-rendering="crispEdges"/>
<line x1="215.2" y1="28.3" x2="722" y2="410.2" stroke="#ff0000" stroke-width="2.1" stroke-dasharray="2.5,3.6"/>
<line x1="670" y1="389.2" x2="740" y2="390" stroke="#ff0000" stroke-width="2.1" stroke-dasharray="3.1,2.9"/>
<polygon points="728.5,369.2 733.8,374.6 731,374.6 731,381.8 726,381.8 726,374.6 723.2,374.6" fill="#10fa10" stroke="#00d400" stroke-width="0.8" stroke-linejoin="round"/>
<g shape-rendering="crispEdges">
<rect x="754.5" y="400.5" width="35" height="9" fill="#fff" stroke="#c0c0c0"/>
</g>
<defs><clipPath id="c1"><rect x="755" y="401" width="34" height="8"/></clipPath></defs>
<text x="788" y="412" class="t11" fill="#999900" style="stroke:#999900" text-anchor="end" clip-path="url(#c1)">12,459</text>
<g shape-rendering="crispEdges">
<rect x="754.5" y="408.5" width="35" height="15" fill="#fff" stroke="#c0c0c0"/>
</g>
<text x="788.5" y="420" class="t11" text-anchor="end">12,07</text>
<defs><linearGradient id="yg" x1="0" y1="0" x2="0" y2="1"><stop offset="0" stop-color="#ffff00"/><stop offset="1" stop-color="#ffc400"/></linearGradient></defs>
<rect x="754.5" y="410.5" width="29" height="15" fill="url(#yg)" stroke="#b4b4c4" shape-rendering="crispEdges"/>
<text x="755.5" y="422" class="t11">11,85</text>
<rect x="754.5" y="529.5" width="39" height="15" fill="#fff" stroke="#c0c0c0" shape-rendering="crispEdges"/>
<text x="756" y="541" class="t11">-2,8062</text>
</svg></body></html>
